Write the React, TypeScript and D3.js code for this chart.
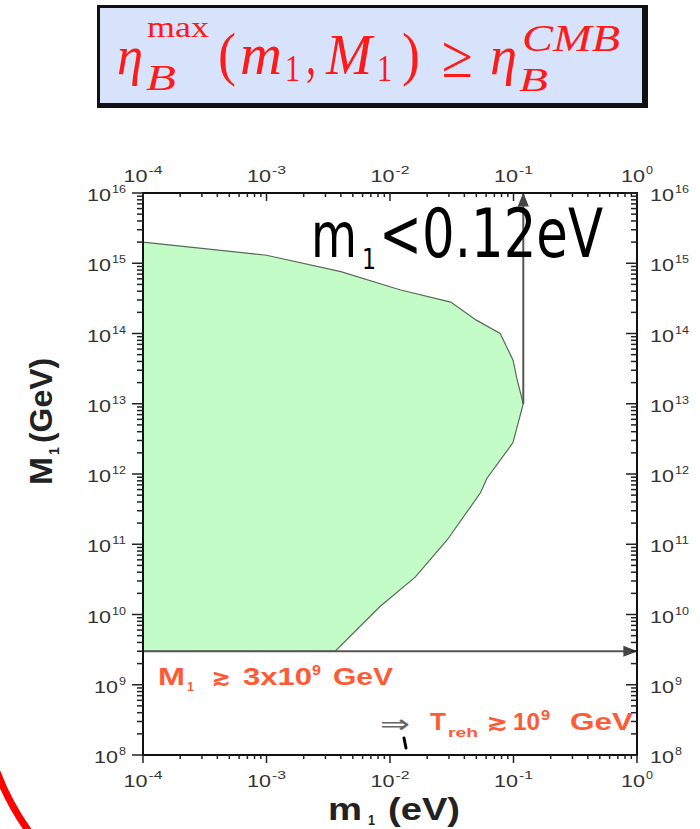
import * as d3 from "d3";

// boundary of the allowed (green) region, walked clockwise from the top-left corner
const boundaryMass = [1e-4, 1e-3, 4e-3, 1.2e-2, 3.1e-2, 5.0e-2, 7.8e-2, 9.9e-2, 0.107, 0.12, 9.9e-2, 6.1e-2, 5.4e-2, 2.9e-2, 1.6e-2, 8.3e-3, 3.6e-3, 1e-4];
const boundaryM1 = [2.0e15, 1.3e15, 7.6e14, 4.2e14, 2.8e14, 1.55e14, 1.0e14, 4.2e13, 2.2e13, 1.0e13, 2.8e12, 8.7e11, 5.4e11, 1.15e11, 3.4e10, 1.3e10, 3.0e9, 3.0e9];

const mLimit = 0.12; // eV, m1 < 0.12 eV
const mLimitFrom = 1e13; // GeV, foot of the vertical arrow
const M1Limit = 3e9; // GeV, M1 >~ 3x10^9

const xDomain = [1e-4, 1];
const yDomain = [1e8, 1e16];

const red = "#ff1a1a";
const orange = "#ff5a36";
const sans = "Liberation Sans, Arial, sans-serif";

const isMajor = (t: number) => Math.abs(Math.log10(t) - Math.round(Math.log10(t))) < 1e-9;

// "10" with a raised exponent; widths fixed so the label looks like the scanned figure
function Pow({ x, y, e, anchor }: { x: number; y: number; e: number; anchor: string }) {
  const ex = String(e);
  const expLen = ex.length * 7;
  const total = 24 + 1 + expLen;
  const x0 = anchor === "end" ? x - total : anchor === "middle" ? x - total / 2 : x;
  return (
    <g fontFamily={sans} fill="#333">
      <text x={x0} y={y} fontSize={17} textLength={24} lengthAdjust="spacingAndGlyphs">10</text>
      <text x={x0 + 25} y={y - 8} fontSize={11} textLength={expLen} lengthAdjust="spacingAndGlyphs">{ex}</text>
    </g>
  );
}

export default function App() {
  const left = 143, right = 637, top = 193, bottom = 755;
  const x = d3.scaleLog().domain(xDomain).range([left, right]);
  const y = d3.scaleLog().domain(yDomain).range([bottom, top]);

  const area = d3.line<number>()
    .x((_, i) => x(boundaryMass[i]))
    .y((_, i) => y(boundaryM1[i]));
  const regionPath = area(boundaryMass.map((_, i) => i)) + "Z";

  const xt = x.ticks();
  const yt = y.ticks();

  const serif = "Liberation Serif, Times New Roman, serif";

  // formula pieces: [text, x, y, size, italic, length]
  const formula: [string, number, number, number, boolean, number][] = [
    ["η", 117, 74, 54, true, 26],
    ["B", 146, 90, 35, true, 30],
    ["max", 147, 37, 29, false, 62],
    ["(", 218, 74, 60, false, 18],
    ["m", 240, 74, 60, true, 42],
    ["1", 285, 81, 38, false, 15],
    [",", 306, 74, 60, false, 10],
    ["M", 326, 74, 56, true, 46],
    ["1", 377, 81, 38, false, 15],
    [")", 402, 74, 60, false, 18],
    ["≥", 442, 77, 60, false, 31],
    ["η", 490, 74, 54, true, 27],
    ["B", 519, 91, 34, true, 29],
    ["CMB", 522, 51, 38, true, 98],
  ];

  return (
    <svg width={700} height={829} style={{ position: "absolute", left: 0, top: 0, background: "#fff" }}>
      <defs>
        <marker id="ah" viewBox="0 0 10 10" refX="9" refY="5" markerWidth="7" markerHeight="7" orient="auto">
          <path d="M0,1 L10,5 L0,9 Z" fill="#444" />
        </marker>
      </defs>

      {/* formula box */}
      <rect x={97} y={5} width={551} height={103} fill="#111" />
      <rect x={100} y={8} width={542} height={95} fill="#d6e3fb" />
      {formula.map(([t, fx, fy, fs, it, len], i) => (
        <text key={i} x={fx} y={fy} fontFamily={serif} fontSize={fs} fontStyle={it ? "italic" : "normal"}
          fill={red} textLength={len} lengthAdjust="spacingAndGlyphs">{t}</text>
      ))}

      {/* allowed region */}
      <path d={regionPath} fill="#c4fcc8" stroke="#556b55" strokeWidth={1.2} />

      {/* limits */}
      <line x1={x(xDomain[0])} x2={x(xDomain[1]) - 1} y1={y(M1Limit)} y2={y(M1Limit)} stroke="#555" strokeWidth={2} markerEnd="url(#ah)" />
      <line x1={x(mLimit)} x2={x(mLimit)} y1={y(mLimitFrom)} y2={y(yDomain[1]) + 1} stroke="#555" strokeWidth={2} markerEnd="url(#ah)" />

      {/* frame */}
      <rect x={left} y={top} width={right - left} height={bottom - top} fill="none" stroke="#111" strokeWidth={2} />

      {/* ticks */}
      {xt.map((t, i) => {
        const len = isMajor(t) ? 8 : 4;
        return (
          <g key={"x" + i} stroke="#222" strokeWidth={1.5}>
            <line x1={x(t)} x2={x(t)} y1={bottom} y2={bottom + len} />
            <line x1={x(t)} x2={x(t)} y1={top} y2={top + len} />
          </g>
        );
      })}
      {yt.map((t, i) => {
        const len = isMajor(t) ? 11 : 6;
        return (
          <g key={"y" + i} stroke="#222" strokeWidth={1.5}>
            <line x1={left} x2={left - len} y1={y(t)} y2={y(t)} />
            <line x1={right} x2={right - len} y1={y(t)} y2={y(t)} />
          </g>
        );
      })}

      {/* tick labels */}
      {xt.filter(isMajor).map((t, i) => (
        <g key={"xl" + i}>
          <Pow x={x(t)} y={182} e={Math.round(Math.log10(t))} anchor="middle" />
          <Pow x={x(t)} y={787} e={Math.round(Math.log10(t))} anchor="middle" />
        </g>
      ))}
      {yt.filter(isMajor).map((t, i) => (
        <g key={"yl" + i}>
          <Pow x={126} y={y(t) + 8} e={Math.round(Math.log10(t))} anchor="end" />
          <Pow x={650} y={y(t) + 8} e={Math.round(Math.log10(t))} anchor="start" />
        </g>
      ))}

      {/* axis titles */}
      <g transform="translate(52,485) rotate(-90)" fontFamily={sans} fontWeight="bold" fill="#222">
        <text x={0} y={0} fontSize={32} textLength={28} lengthAdjust="spacingAndGlyphs">M</text>
        <text x={30} y={7} fontSize={15} textLength={8} lengthAdjust="spacingAndGlyphs">1</text>
        <text x={42} y={0} fontSize={32} textLength={85} lengthAdjust="spacingAndGlyphs">(GeV)</text>
      </g>
      <g fontFamily={sans} fontWeight="bold" fill="#222">
        <text x={328} y={820} fontSize={32} textLength={34} lengthAdjust="spacingAndGlyphs">m</text>
        <text x={368} y={825} fontSize={15} textLength={7} lengthAdjust="spacingAndGlyphs">1</text>
        <text x={388} y={820} fontSize={32} textLength={72} lengthAdjust="spacingAndGlyphs">(eV)</text>
      </g>

      {/* m1 < 0.12 eV, stretched vertically like the hand-written original */}
      <g fontFamily="DejaVu Sans, sans-serif" fill="#000">
        <g transform="translate(311,257) scale(1,1.32)">
          <text x={0} y={0} fontSize={47} textLength={46} lengthAdjust="spacingAndGlyphs">m</text>
        </g>
        <g transform="translate(362,269) scale(1,1.32)">
          <text x={0} y={0} fontSize={22} textLength={14} lengthAdjust="spacingAndGlyphs">1</text>
        </g>
        <g transform="translate(379,257) scale(1,1.32)">
          <text x={0} y={0} fontSize={51} textLength={224} lengthAdjust="spacingAndGlyphs">&lt;0.12eV</text>
        </g>
      </g>

      {/* red annotations */}
      <g fontFamily={sans} fontWeight="bold" fill={orange}>
        <text x={158} y={685} fontSize={24} textLength={27} lengthAdjust="spacingAndGlyphs">M</text>
        <text x={187} y={691} fontSize={13} textLength={7} lengthAdjust="spacingAndGlyphs">1</text>
        <text x={212} y={685} fontSize={22} textLength={18} lengthAdjust="spacingAndGlyphs">≳</text>
        <text x={243} y={685} fontSize={24} textLength={69} lengthAdjust="spacingAndGlyphs">3x10</text>
        <text x={312} y={675} fontSize={14} textLength={9} lengthAdjust="spacingAndGlyphs">9</text>
        <text x={333} y={685} fontSize={24} textLength={60} lengthAdjust="spacingAndGlyphs">GeV</text>

        <text x={430} y={730} fontSize={24} textLength={16} lengthAdjust="spacingAndGlyphs">T</text>
        <text x={448} y={737} fontSize={13} textLength={30} lengthAdjust="spacingAndGlyphs">reh</text>
        <text x={487} y={730} fontSize={22} textLength={20} lengthAdjust="spacingAndGlyphs">≳</text>
        <text x={513} y={730} fontSize={24} textLength={27} lengthAdjust="spacingAndGlyphs">10</text>
        <text x={541} y={720} fontSize={14} textLength={9} lengthAdjust="spacingAndGlyphs">9</text>
        <text x={570} y={730} fontSize={24} textLength={63} lengthAdjust="spacingAndGlyphs">GeV</text>
      </g>
      <text x={380} y={733} fontFamily="DejaVu Sans, sans-serif" fontSize={26} fill="#666" textLength={30} lengthAdjust="spacingAndGlyphs">⇒</text>
      <line x1={404} y1={738} x2={406} y2={748} stroke="#000" strokeWidth={3} strokeLinecap="round" />

      {/* red ring fragment */}
      <path d="M-3,772 Q9,804 30,833" fill="none" stroke="#ff0000" strokeWidth={7} />
    </svg>
  );
}
